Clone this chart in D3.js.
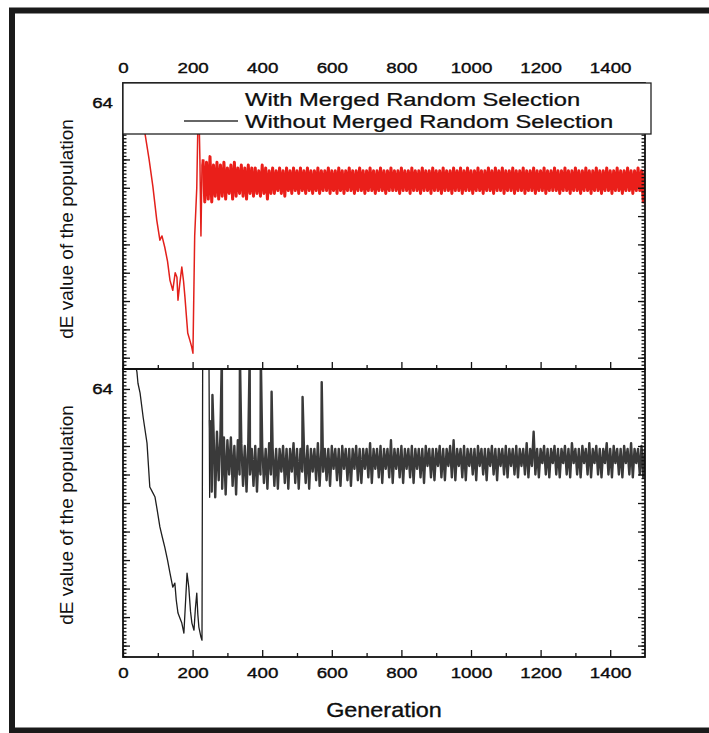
<!DOCTYPE html>
<html>
<head>
<meta charset="utf-8">
<script src="https://cdnjs.cloudflare.com/ajax/libs/d3/7.8.5/d3.min.js"></script>
<style>
  body { margin: 0; background: #fff; }
  svg text { font-family: "Liberation Sans", Arial, Helvetica, sans-serif; fill: #111; }
</style>
</head>
<body>
<div id="chart"></div>
<script>
// ---- data ----
var xTickValues = [0, 200, 400, 600, 800, 1000, 1200, 1400];
var xMinorTicks = [100, 300, 500, 700, 900, 1100, 1300];
var yMajorTicks = [55, 56, 57, 58, 59, 60, 61, 62, 63, 64];
var yLabelled = [64];
var legendLabels = ["With Merged Random Selection", "Without Merged Random Selection"];
var bandStep = 5;

// with merged random selection (red, top panel)
var withEarly = [[0, 66.5], [30, 65.3], [63, 62.93], [75, 62.0], [86, 61.03], [97, 59.86], [106, 59.15],
  [112, 59.3], [120, 58.9], [128, 58.4], [135, 57.73], [143, 57.38], [150, 58.0], [155, 57.84], [158, 57.03],
  [163, 57.6], [169, 58.2], [174, 57.7], [178, 57.14], [182, 56.5], [186, 55.87], [192, 55.62], [197, 55.4],
  [201, 55.16], [206, 59.3], [212, 61.0], [217, 64.5], [221, 62.0], [224, 59.3], [227, 61.8]];
var withBandStart = 230;
var withBand = [
  62.0, 60.5, 61.9, 60.6, 62.1, 60.5, 61.8, 60.7, 61.9, 60.6,
  61.8, 60.7, 61.9, 60.6, 61.7, 60.8, 61.8, 60.6, 61.9, 60.7,
  61.7, 60.8, 61.8, 60.7, 61.7, 60.6, 61.8, 60.8, 61.7, 60.7,
  61.7, 60.8, 61.6, 60.7, 61.8, 60.8, 61.7, 60.6, 61.6, 60.8,
  61.7, 60.8, 61.6, 60.9, 61.7, 60.8, 61.6, 60.7, 61.7, 60.9,
  61.6, 60.8, 61.7, 60.9, 61.6, 60.8, 61.7, 60.9, 61.6, 60.8,
  61.7, 60.9, 61.6, 60.8, 61.6, 60.9, 61.7, 60.8, 61.6, 60.9,
  61.6, 60.9, 61.7, 60.8, 61.6, 60.9, 61.6, 60.8, 61.7, 60.9,
  61.6, 60.8, 61.6, 60.9, 61.7, 60.9, 61.6, 60.8, 61.6, 60.9,
  61.7, 60.9, 61.6, 60.8, 61.6, 60.9, 61.7, 60.9, 61.6, 60.8,
  61.6, 60.9, 61.7, 60.9, 61.6, 60.8, 61.6, 60.9, 61.7, 60.9,
  61.6, 60.9, 61.6, 60.8, 61.7, 60.9, 61.6, 60.9, 61.6, 60.8,
  61.7, 60.9, 61.6, 60.9, 61.6, 60.8, 61.7, 60.9, 61.6, 60.9,
  61.6, 60.8, 61.7, 60.9, 61.6, 60.9, 61.6, 60.8, 61.7, 60.9,
  61.6, 60.9, 61.6, 60.8, 61.7, 60.9, 61.6, 60.9, 61.7, 60.8,
  61.6, 60.9, 61.7, 60.9, 61.6, 60.8, 61.6, 60.9, 61.7, 60.9,
  61.6, 60.8, 61.6, 60.9, 61.7, 60.9, 61.6, 60.8, 61.7, 60.9,
  61.6, 60.9, 61.7, 60.8, 61.6, 60.9, 61.6, 60.9, 61.7, 60.8,
  61.6, 60.9, 61.6, 60.9, 61.7, 60.8, 61.6, 60.9, 61.6, 60.9,
  61.7, 60.8, 61.6, 60.9, 61.6, 60.9, 61.7, 60.8, 61.6, 60.9,
  61.6, 60.9, 61.7, 60.9, 61.6, 60.8, 61.6, 60.9, 61.7, 60.9,
  61.6, 60.8, 61.6, 60.9, 61.7, 60.9, 61.6, 60.8, 61.6, 60.9,
  61.7, 60.9, 61.6, 60.8, 61.6, 60.9, 61.7, 60.9, 61.6, 60.8,
  61.6, 60.9, 61.7, 60.9, 61.6, 60.8, 61.6, 60.9, 61.7, 60.9,
  61.6, 60.8, 61.6, 60.9, 61.7, 60.9, 61.6, 60.8, 61.6, 60.9,
  61.7, 60.9, 61.6, 60.5, 61.6];

// without merged random selection (black, bottom panel)
var withoutEarly = [[0, 66.5], [30, 65.2], [40, 64.6], [43, 64.2], [49, 63.86], [58, 63.0], [69, 62.1],
  [77, 60.56], [84, 60.4], [92, 60.21], [99, 59.7], [106, 59.16], [113, 58.8], [120, 58.45], [128, 58.0],
  [135, 57.54], [143, 57.05], [149, 57.19], [153, 56.6], [158, 56.14], [164, 55.95], [169, 55.79],
  [175, 55.44], [180, 56.6], [184, 57.54], [189, 57.05], [194, 56.2], [198, 55.79], [204, 55.54],
  [208, 56.3], [212, 56.84], [215, 56.1], [218, 55.65], [224, 55.3], [227, 55.19], [229, 65.2],
  [247, 65.2], [249, 60.2]];
var withoutBandStart = 250;
var withoutBand = [
  62.9, 60.4, 62.6, 60.2, 62.5, 60.8, 62.4, 60.5, 62.3, 60.3,
  62.2, 61.0, 62.3, 60.6, 62.0, 60.3, 62.2, 61.0, 62.1, 60.6,
  62.0, 60.4, 62.1, 61.0, 61.9, 60.6, 62.0, 60.4, 61.9, 61.0,
  62.0, 60.7, 61.9, 60.5, 62.1, 61.0, 61.9, 60.6, 61.9, 60.5,
  61.9, 61.1, 62.0, 60.7, 61.9, 60.5, 61.9, 61.1, 62.1, 60.7,
  61.9, 60.5, 61.9, 61.1, 61.9, 60.7, 62.0, 60.5, 61.9, 61.1,
  61.9, 60.8, 62.1, 60.6, 61.9, 61.1, 61.9, 60.8, 61.9, 60.6,
  62.0, 61.2, 61.9, 60.8, 61.9, 60.6, 62.0, 61.2, 61.9, 60.8,
  61.9, 60.6, 61.9, 61.2, 62.0, 60.8, 61.9, 60.7, 61.9, 61.2,
  61.9, 60.9, 62.1, 60.7, 61.9, 61.2, 61.9, 60.9, 62.0, 60.7,
  61.9, 61.2, 61.9, 60.9, 62.2, 60.7, 61.9, 61.2, 61.9, 60.9,
  62.0, 60.7, 61.9, 61.2, 61.9, 60.9, 62.0, 60.7, 61.9, 61.2,
  61.9, 60.9, 61.9, 60.7, 62.0, 61.3, 61.9, 60.9, 61.9, 60.8,
  61.9, 61.3, 62.0, 60.9, 61.9, 60.8, 61.9, 61.3, 62.0, 60.9,
  62.2, 60.8, 61.9, 61.3, 61.9, 60.9, 62.0, 60.8, 61.9, 61.3,
  61.9, 61.0, 61.9, 60.8, 62.0, 61.3, 61.9, 61.0, 61.9, 60.8,
  61.9, 61.3, 62.0, 61.0, 61.9, 60.8, 61.9, 61.3, 61.9, 61.0,
  62.0, 60.9, 61.9, 61.3, 61.9, 61.0, 62.0, 60.9, 61.9, 61.3,
  61.9, 61.0, 62.1, 60.9, 61.9, 61.3, 62.5, 61.0, 61.9, 60.9,
  61.9, 61.4, 62.0, 61.0, 61.9, 60.9, 61.9, 61.4, 62.0, 61.0,
  61.9, 60.9, 61.9, 61.4, 62.0, 61.0, 61.9, 60.9, 62.1, 61.4,
  61.9, 61.0, 61.9, 60.9, 62.0, 61.4, 61.9, 61.0, 62.1, 60.9,
  61.9, 61.4, 62.0, 61.0, 61.9, 60.9, 61.9, 61.4, 62.1, 61.0,
  61.9, 60.9, 62.0, 61.4, 61.9, 61.0, 61.9, 60.9, 62.0, 61.4,
  61.9, 61.0, 62.1, 60.9, 61.9, 61.4, 61.9, 61.0, 62.0, 60.9,
  61.9];
var withoutSpikes = [[257, 63.79], [284, 65.2], [336, 65.2], [364, 65.2], [396, 65.2],
  [427, 63.9], [516, 63.72], [571, 64.24]];

// ---- layout ----
var width = 709, height = 733;
var plotLeft = 123, plotRight = 645;
var topPanel = {top: 83, bottom: 369};
var botPanel = {top: 369, bottom: 657};
var stretch = 1.25; // the scanned figure is wider than it is tall

var svg = d3.select("#chart").append("svg")
    .attr("width", width)
    .attr("height", height);

// thick outer frame
svg.append("rect")
    .attr("x", 12).attr("y", 10.5)
    .attr("width", 740).attr("height", 720)
    .attr("fill", "none")
    .attr("stroke", "#1a1a1a")
    .attr("stroke-width", 6);

var x = d3.scaleLinear().domain([0, 1500]).range([plotLeft, plotRight]);
var yTop = d3.scaleLinear().domain([54.6, 64.7]).range([topPanel.bottom, topPanel.top]);
var yBot = d3.scaleLinear().domain([54.6, 64.7]).range([botPanel.bottom, botPanel.top]);
var yMinorTicks = d3.range(54.625, 64.7, 0.125);

function toPoints(pairs) {
    return pairs.map(function(d) { return {g: d[0], v: d[1]}; });
}
function bandPoints(start, band, spikes) {
    var pts = band.map(function(v, i) { return {g: start + i * bandStep, v: v}; });
    pts = pts.concat(toPoints(spikes));
    pts.sort(function(a, b) { return a.g - b.g; });
    return pts;
}

var withHead = toPoints(withEarly);
var withTail = bandPoints(withBandStart, withBand, []);
var withoutHead = toPoints(withoutEarly);
var withoutTail = bandPoints(withoutBandStart, withoutBand, withoutSpikes);

// clip paths
var defs = svg.append("defs");
defs.append("clipPath").attr("id", "clipTop").append("rect")
    .attr("x", plotLeft).attr("y", topPanel.top)
    .attr("width", plotRight - plotLeft).attr("height", topPanel.bottom - topPanel.top);
defs.append("clipPath").attr("id", "clipBot").append("rect")
    .attr("x", plotLeft).attr("y", botPanel.top)
    .attr("width", plotRight - plotLeft).attr("height", botPanel.bottom - botPanel.top);

function drawLine(data, y, clip, color, w) {
    svg.append("path")
        .datum(data)
        .attr("clip-path", "url(#" + clip + ")")
        .attr("fill", "none")
        .attr("stroke", color)
        .attr("stroke-width", w)
        .attr("stroke-linejoin", "round")
        .attr("d", d3.line().x(function(d) { return x(d.g); }).y(function(d) { return y(d.v); }));
}

// early descent drawn thin, the fast oscillating part drawn as a dense band
drawLine(withHead.concat([withTail[0]]), yTop, "clipTop", "#e3201b", 1.5);
drawLine(withTail, yTop, "clipTop", "#ea1f1a", 3.0);
drawLine(withoutHead.concat([withoutTail[0]]), yBot, "clipBot", "#1e1e1e", 1.3);
drawLine(withoutTail, yBot, "clipBot", "#3a3a3a", 2.4);

// axes helpers
function styleAxis(g) {
    g.select(".domain").remove();
    g.selectAll(".tick line").attr("stroke", "#111").attr("stroke-width", 1.3);
    g.selectAll(".tick text")
        .style("font-size", "15px")
        .attr("fill", "#000")
        .attr("stroke", "#000")
        .attr("stroke-width", 0.35)
        .attr("transform", "scale(" + stretch + ",1)");
}

function yAxes(y) {
    svg.append("g").attr("transform", "translate(" + plotLeft + ",0)")
        .call(d3.axisLeft(y).tickValues(yMinorTicks).tickSize(-3.5).tickFormat(""))
        .call(styleAxis);
    svg.append("g").attr("transform", "translate(" + plotLeft + ",0)")
        .call(d3.axisLeft(y).tickValues(yMajorTicks).tickSize(-7).tickPadding(8)
            .tickFormat(function(d) { return yLabelled.indexOf(d) >= 0 ? d : ""; }))
        .call(styleAxis);
    svg.append("g").attr("transform", "translate(" + plotRight + ",0)")
        .call(d3.axisRight(y).tickValues(yMinorTicks).tickSize(-3.5).tickFormat(""))
        .call(styleAxis);
    svg.append("g").attr("transform", "translate(" + plotRight + ",0)")
        .call(d3.axisRight(y).tickValues(yMajorTicks).tickSize(-7).tickFormat(""))
        .call(styleAxis);
}

function xAxis(axisFn, ypos, labels) {
    svg.append("g").attr("transform", "translate(0," + ypos + ")")
        .call(axisFn(x).tickValues(xMinorTicks).tickSize(-4).tickFormat(""))
        .call(styleAxis);
    svg.append("g").attr("transform", "translate(0," + ypos + ")")
        .call(axisFn(x).tickValues(xTickValues).tickSize(-7).tickPadding(labels ? 10 : 3)
            .tickFormat(labels ? d3.format("d") : ""))
        .call(styleAxis);
}

yAxes(yTop);
yAxes(yBot);
xAxis(d3.axisTop, topPanel.top, true);
xAxis(d3.axisBottom, topPanel.bottom, false);
xAxis(d3.axisBottom, botPanel.bottom, true);

// panel frames
[topPanel, botPanel].forEach(function(p) {
    svg.append("rect")
        .attr("x", plotLeft).attr("y", p.top)
        .attr("width", plotRight - plotLeft).attr("height", p.bottom - p.top)
        .attr("fill", "none")
        .attr("stroke", "#111")
        .attr("stroke-width", 1.8);
});

// legend box over the top of the upper panel
var legend = svg.append("g");
legend.append("rect")
    .attr("x", plotLeft).attr("y", 83)
    .attr("width", 528).attr("height", 51)
    .attr("fill", "#fff")
    .attr("stroke", "#222")
    .attr("stroke-width", 1.3);
legend.append("line")
    .attr("x1", 184).attr("x2", 238)
    .attr("y1", 121).attr("y2", 121)
    .attr("stroke", "#333")
    .attr("stroke-width", 1.3);
legend.selectAll("text.leg")
    .data(legendLabels)
    .enter()
    .append("text")
    .attr("class", "leg")
    .attr("transform", function(d, i) { return "translate(245," + (106 + i * 22) + ") scale(1.32,1)"; })
    .style("font-size", "18px")
    .attr("fill", "#000")
    .attr("stroke", "#000")
    .attr("stroke-width", 0.25)
    .text(function(d) { return d; });

// axis titles
[229, 515].forEach(function(cy) {
    svg.append("text")
        .attr("transform", "translate(66," + cy + ") rotate(-90)")
        .attr("text-anchor", "middle")
        .attr("dominant-baseline", "central")
        .style("font-size", "19px")
        .attr("fill", "#000")
        .text("dE value of the population");
});

svg.append("text")
    .attr("transform", "translate(" + ((plotLeft + plotRight) / 2) + ",717) scale(1.17,1)")
    .attr("text-anchor", "middle")
    .style("font-size", "20px")
    .attr("fill", "#000")
    .attr("stroke", "#000")
    .attr("stroke-width", 0.3)
    .text("Generation");
</script>
</body>
</html>
